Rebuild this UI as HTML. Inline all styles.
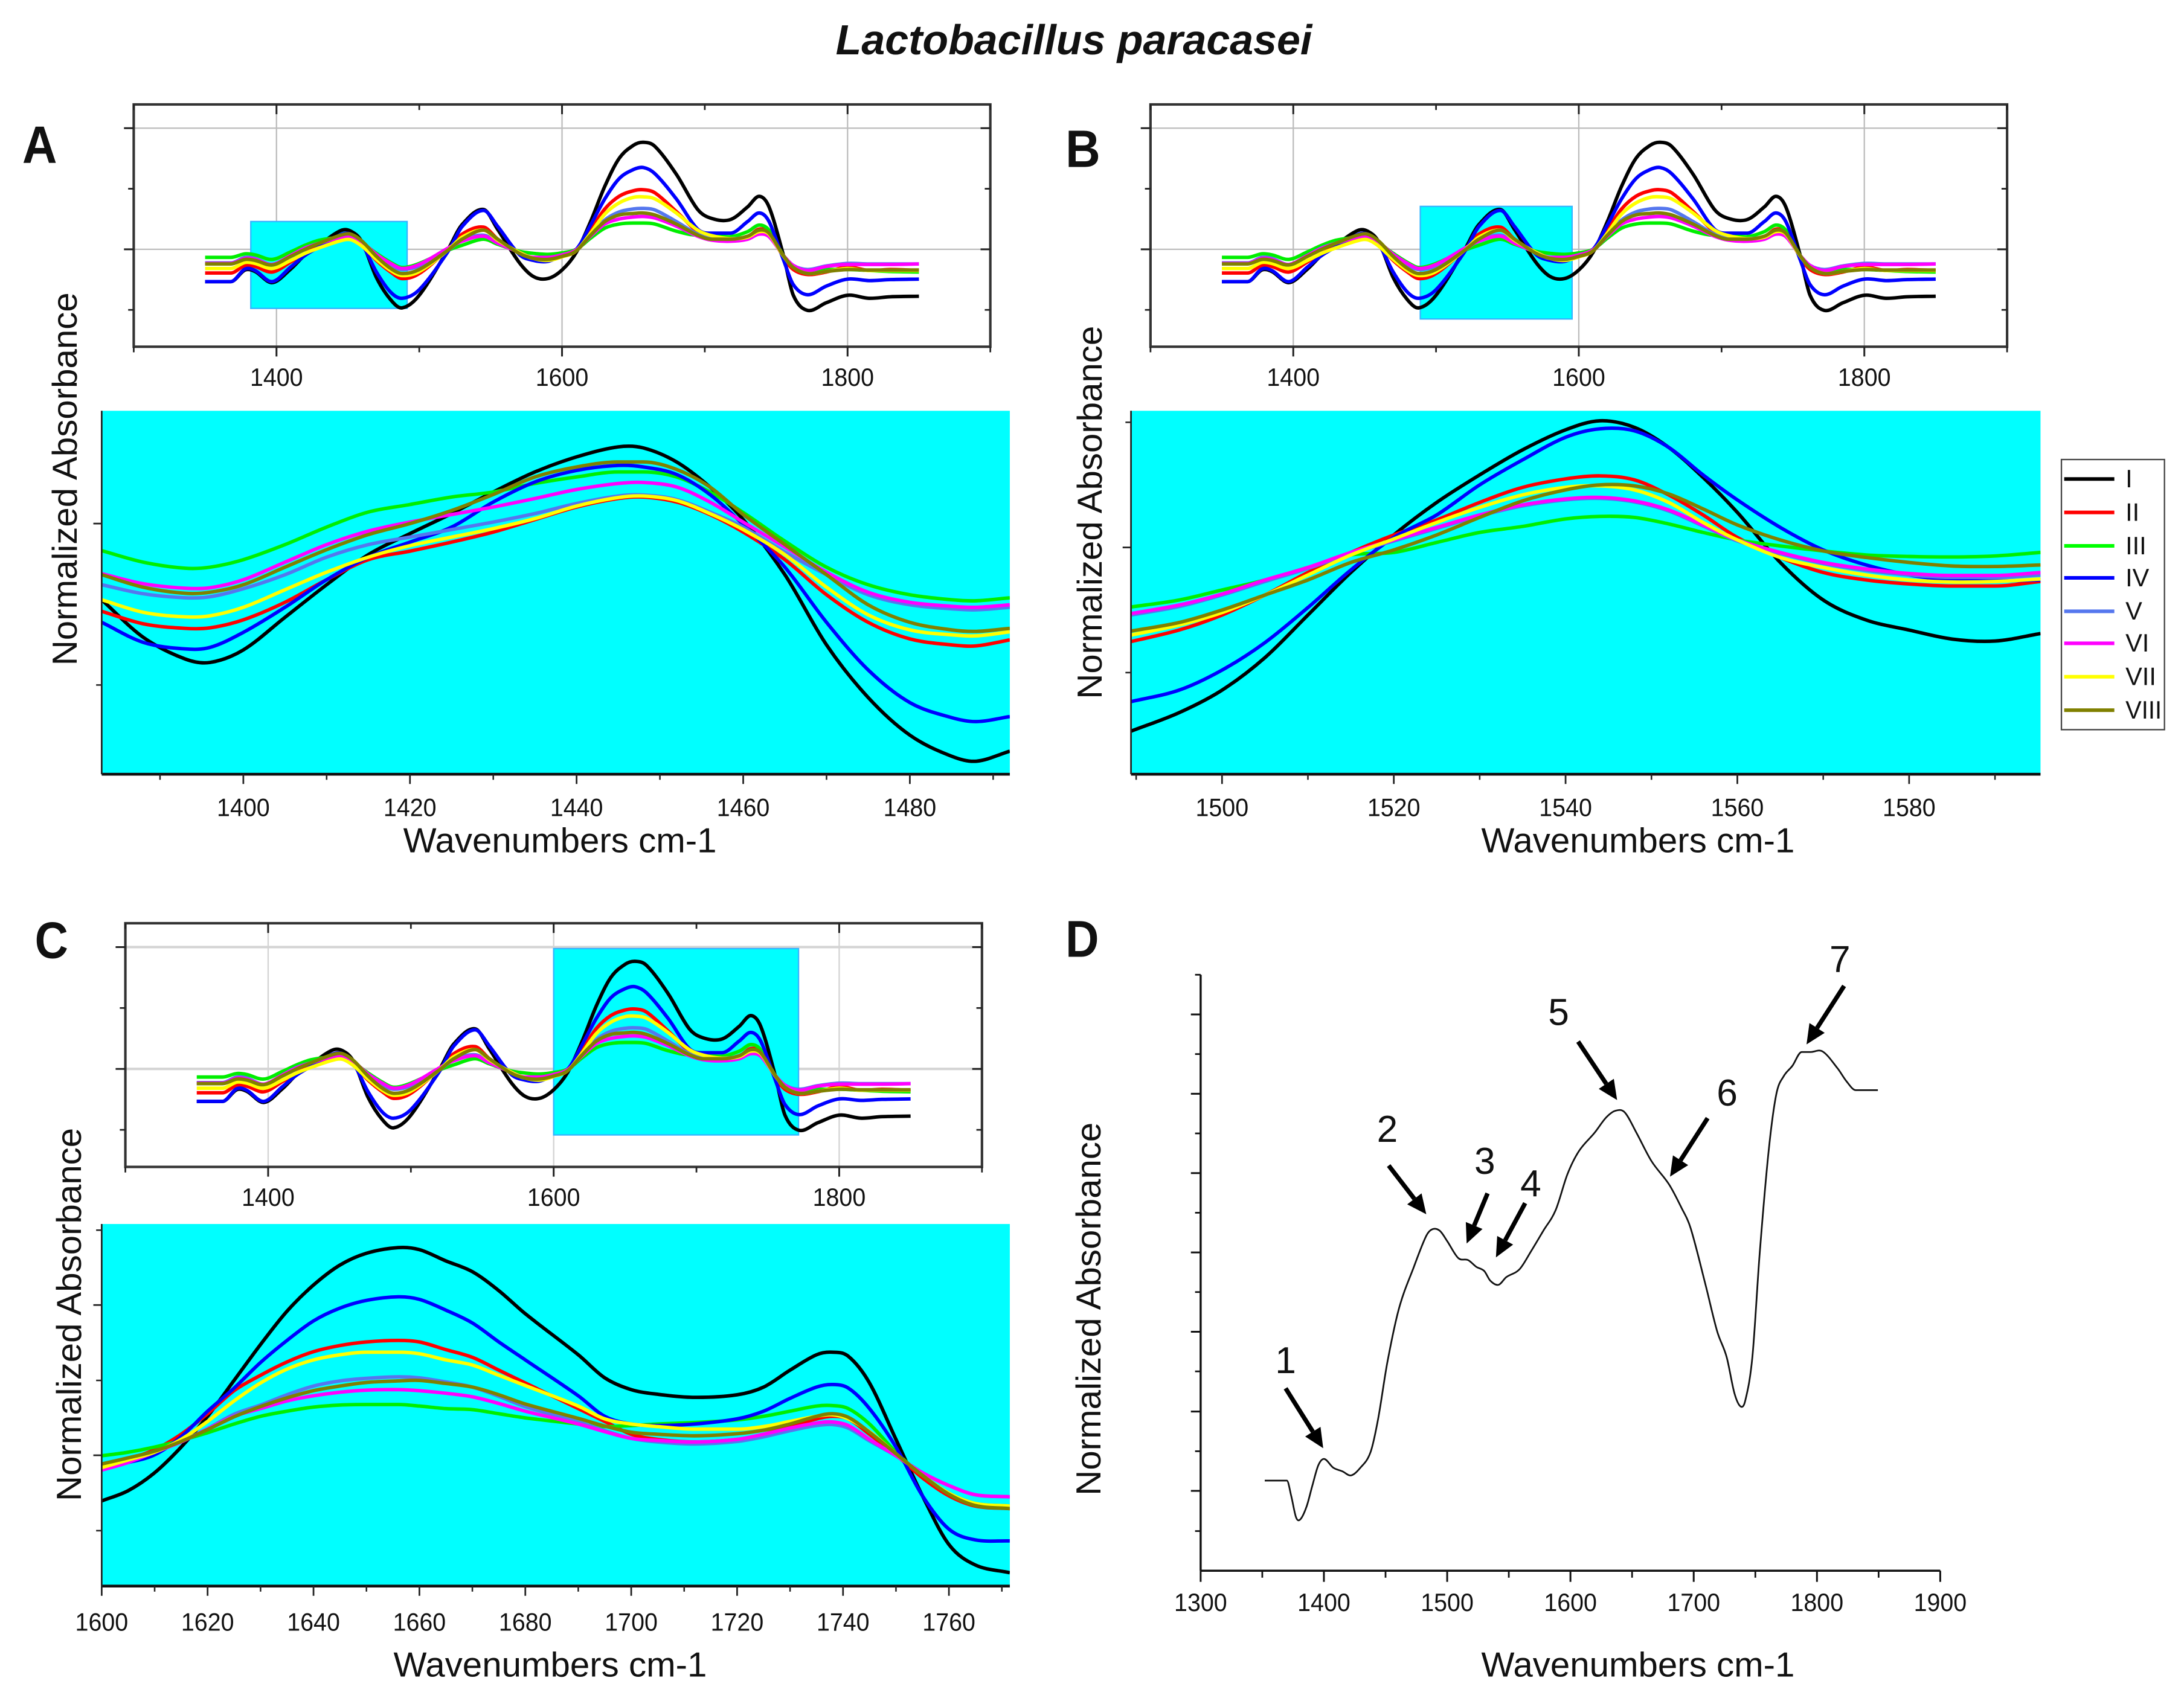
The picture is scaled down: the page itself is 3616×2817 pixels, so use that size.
<!DOCTYPE html>
<html lang="en">
<head>
<meta charset="utf-8">
<title>Lactobacillus paracasei</title>
<style>
html,body{margin:0;padding:0;background:#fff}
svg{display:block}
text{font-family:"Liberation Sans",sans-serif;fill:#111}
</style>
</head>
<body>
<svg id="fig" xmlns="http://www.w3.org/2000/svg" width="3616" height="2817" viewBox="0 0 1568 1221.55">
  <rect x="0" y="0" width="1568" height="1222" fill="#fff"/>
  <text x="771" y="39" font-size="30" font-weight="bold" font-style="italic" text-anchor="middle" textLength="342" lengthAdjust="spacingAndGlyphs">Lactobacillus paracasei</text>
  <text x="16" y="117" font-size="38" font-weight="bold" textLength="25" lengthAdjust="spacingAndGlyphs">A</text>
  <text x="765" y="120" font-size="38" font-weight="bold" textLength="25" lengthAdjust="spacingAndGlyphs">B</text>
  <text x="25" y="688" font-size="37" font-weight="bold" textLength="24" lengthAdjust="spacingAndGlyphs">C</text>
  <text x="765" y="687" font-size="37" font-weight="bold" textLength="24" lengthAdjust="spacingAndGlyphs">D</text>

  <g id="plots"></g>

  <text transform="translate(55,344) rotate(-90)" font-size="25" text-anchor="middle" textLength="268" lengthAdjust="spacingAndGlyphs">Normalized Absorbance</text>
  <text transform="translate(791,368) rotate(-90)" font-size="25" text-anchor="middle" textLength="268" lengthAdjust="spacingAndGlyphs">Normalized Absorbance</text>
  <text transform="translate(58,944) rotate(-90)" font-size="25" text-anchor="middle" textLength="268" lengthAdjust="spacingAndGlyphs">Normalized Absorbance</text>
  <text transform="translate(790,940) rotate(-90)" font-size="25" text-anchor="middle" textLength="268" lengthAdjust="spacingAndGlyphs">Normalized Absorbance</text>
  <text x="402" y="612" font-size="25" text-anchor="middle" textLength="225" lengthAdjust="spacingAndGlyphs">Wavenumbers cm-1</text>
  <text x="1176" y="612" font-size="25" text-anchor="middle" textLength="225" lengthAdjust="spacingAndGlyphs">Wavenumbers cm-1</text>
  <text x="395" y="1204" font-size="25" text-anchor="middle" textLength="225" lengthAdjust="spacingAndGlyphs">Wavenumbers cm-1</text>
  <text x="1176" y="1204" font-size="25" text-anchor="middle" textLength="225" lengthAdjust="spacingAndGlyphs">Wavenumbers cm-1</text>

  <g>
    <rect x="1480" y="330" width="74" height="194" fill="#fff" stroke="#444" stroke-width="1"/>
    <g><line x1="1482" x2="1518" y1="344" y2="344" stroke="#000" stroke-width="2.6"/><text x="1526" y="350" font-size="18">I</text></g>
    <g><line x1="1482" x2="1518" y1="368" y2="368" stroke="#f00" stroke-width="2.6"/><text x="1526" y="374" font-size="18">II</text></g>
    <g><line x1="1482" x2="1518" y1="392" y2="392" stroke="#0f0" stroke-width="2.6"/><text x="1526" y="398" font-size="18">III</text></g>
    <g><line x1="1482" x2="1518" y1="415" y2="415" stroke="#00f" stroke-width="2.6"/><text x="1526" y="421" font-size="18">IV</text></g>
    <g><line x1="1482" x2="1518" y1="439" y2="439" stroke="#5577ee" stroke-width="2.6"/><text x="1526" y="445" font-size="18">V</text></g>
    <g><line x1="1482" x2="1518" y1="462" y2="462" stroke="#f0f" stroke-width="2.6"/><text x="1526" y="468" font-size="18">VI</text></g>
    <g><line x1="1482" x2="1518" y1="486" y2="486" stroke="#ff0" stroke-width="2.6"/><text x="1526" y="492" font-size="18">VII</text></g>
    <g><line x1="1482" x2="1518" y1="510" y2="510" stroke="#808000" stroke-width="2.6"/><text x="1526" y="516" font-size="18" textLength="26" lengthAdjust="spacingAndGlyphs">VIII</text></g>
  </g>

  <g font-size="27">
    <text x="923" y="986" font-size="27" text-anchor="middle">1</text>
    <text x="996" y="820" font-size="27" text-anchor="middle">2</text>
    <text x="1066" y="843" font-size="27" text-anchor="middle">3</text>
    <text x="1099" y="859" font-size="27" text-anchor="middle">4</text>
    <text x="1119" y="736" font-size="27" text-anchor="middle">5</text>
    <text x="1240" y="794" font-size="27" text-anchor="middle">6</text>
    <text x="1321" y="698" font-size="27" text-anchor="middle">7</text>
  </g>
  <g id="arrows"></g>
</svg>

<script>
// ---------- series labels and colours ----------
const seriesNames = ['I','II','III','IV','V','VI','VII','VIII'];
const seriesColors = ['#000000','#ff0000','#00ee00','#0000ff','#5577ee','#ff00ff','#ffff00','#808000'];

// ---------- full spectrum shown in the insets ----------
const wnFull = [1350,1368,1378,1385,1397,1410,1420,1430,1445,1452,1460,1470,1480,1488,1500,1520,1530,1545,1555,1570,1580,1590,1600,1610,1620,1630,1640,1650,1657,1665,1680,1695,1705,1718,1730,1738,1745,1755,1762,1772,1785,1800,1815,1830,1850];
const fullI = [-64,-64,-41,-44,-66,-39,-11,9,37,36,14,-56,-100,-116,-91,-1,49,79,39,-26,-54,-58,-41,-6,55,125,180,206,212,204,149,79,61,59,84,105,84,-11,-91,-121,-106,-91,-97,-94,-93];
const fullII = [-47,-47,-32,-34,-45,-25,-8,5,20,22,8,-22,-45,-58,-48,0,30,44,20,-8,-20,-22,-14,-3,38,80,105,116,118,112,75,35,25,20,25,40,33,-15,-40,-50,-45,-35,-42,-40,-42];
const fullIII = [-16,-16,-9,-11,-20,-5,8,18,24,23,12,-8,-26,-36,-28,-2,8,20,10,-4,-8,-10,-7,0,22,42,50,52,52,50,36,28,28,25,35,48,38,-12,-34,-44,-40,-40,-42,-44,-45];
const fullIV = [-64,-64,-39,-42,-64,-35,-12,5,29,30,10,-45,-85,-97,-80,-5,45,77,45,-10,-22,-24,-12,0,48,100,140,158,162,150,100,40,32,32,55,72,55,-20,-70,-90,-73,-59,-62,-60,-59];
const fullV = [-27,-27,-16,-18,-30,-12,3,12,24,25,12,-12,-32,-40,-33,-2,18,28,14,-6,-18,-18,-12,-2,28,58,74,80,81,78,55,30,22,21,24,31,26,-12,-32,-40,-33,-28,-29,-29,-29];
const fullVI = [-28,-28,-18,-20,-30,-12,2,12,24,26,14,-10,-28,-38,-30,2,16,26,12,-6,-16,-16,-11,-1,26,50,60,64,65,62,46,26,18,16,20,30,25,-12,-32,-42,-34,-30,-30,-30,-29];
const fullVII = [-38,-38,-26,-28,-38,-22,-8,3,17,19,6,-20,-42,-52,-44,-2,24,38,18,-6,-18,-22,-15,-3,32,70,92,103,104,100,72,38,27,21,24,35,30,-13,-36,-48,-44,-38,-42,-42,-42];
const fullVIII = [-29,-29,-20,-22,-31,-14,0,12,28,30,16,-14,-38,-48,-40,-2,20,38,20,-8,-18,-20,-14,-3,28,55,68,71,72,68,50,28,20,20,26,38,32,-12,-36,-48,-44,-40,-41,-41,-41];
const fullSeries = [fullI,fullII,fullIII,fullIV,fullV,fullVI,fullVII,fullVIII];

// ---------- panel A detail ----------
const wnA = [1383,1388,1393,1396,1400,1405,1410,1415,1420,1425,1430,1435,1440,1445,1448,1452,1456,1460,1465,1470,1475,1480,1485,1488,1492];
const aI = [-152,-227,-270,-277,-252,-187,-122,-62,-20,20,63,103,133,153,151,123,73,8,-102,-242,-347,-422,-464,-474,-454];
const aII = [-175,-200,-209,-208,-192,-157,-112,-72,-55,-37,-17,8,33,50,53,43,18,-17,-72,-142,-197,-230,-242,-244,-232];
const aIII = [-54,-77,-89,-87,-72,-42,-7,23,38,53,63,80,93,103,103,93,63,22,-35,-87,-122,-142,-152,-154,-148];
const aIV = [-197,-237,-250,-247,-217,-167,-112,-67,-37,-7,43,83,106,116,113,98,58,-2,-87,-197,-292,-357,-387,-395,-385];
const aV = [-122,-140,-148,-146,-130,-102,-67,-42,-27,-12,3,20,40,55,57,48,23,-7,-57,-102,-142,-162,-170,-172,-167];
const aVI = [-100,-120,-129,-128,-112,-77,-42,-15,3,18,33,50,68,80,82,73,43,3,-47,-97,-137,-157,-165,-167,-162];
const aVII = [-152,-177,-186,-184,-167,-132,-97,-67,-44,-27,-10,10,35,52,55,46,20,-12,-62,-127,-182,-212,-222,-224,-216];
const aVIII = [-102,-127,-139,-137,-122,-87,-52,-22,0,26,58,93,113,123,123,108,73,18,-42,-102,-162,-197,-212,-215,-209];
const aSeries = [aI,aII,aIII,aIV,aV,aVI,aVII,aVIII];

// ---------- panel B detail ----------
const wnB = [1489.4,1495,1500,1505,1510,1515,1520,1525,1530,1535,1540,1544,1548,1552,1556,1560,1565,1570,1575,1580,1585,1590,1595.3];
const bI = [-367,-330,-285,-220,-135,-50,25,90,145,195,235,253,240,200,140,70,-30,-105,-145,-165,-183,-187,-172];
const bII = [-188,-165,-135,-95,-50,-10,25,55,90,120,137,143,135,105,65,20,-20,-50,-65,-73,-77,-77,-68];
const bIII = [-119,-105,-85,-65,-40,-15,-10,10,30,42,57,62,60,47,30,15,3,-7,-15,-18,-19,-17,-10];
const bIV = [-308,-285,-245,-190,-120,-45,20,65,125,175,220,237,233,200,145,95,40,-5,-35,-55,-65,-67,-65];
const bV = [-135,-118,-95,-68,-42,-12,13,38,63,83,95,98,91,73,43,13,-12,-32,-46,-55,-60,-60,-55];
const bVI = [-132,-115,-93,-65,-40,-10,15,40,65,85,97,100,93,75,45,15,-10,-30,-43,-52,-56,-56,-50];
const bVII = [-175,-155,-130,-95,-55,-15,17,50,80,105,120,123,115,90,50,15,-20,-40,-55,-65,-69,-68,-63];
const bVIII = [-167,-150,-125,-95,-65,-30,-5,25,60,93,115,125,123,107,77,45,15,-7,-20,-30,-37,-38,-35];
const bSeries = [bI,bII,bIII,bIV,bV,bVI,bVII,bVIII];

// ---------- panel C detail ----------
const wnC = [1600,1605,1610,1615,1620,1625,1630,1635,1640,1645,1650,1656,1660,1665,1670,1675,1680,1690,1695,1700,1705,1712,1720,1725,1730,1735,1738,1741,1745,1750,1755,1760,1765,1771.5];
const cI = [-89,-69,-34,16,76,146,216,281,332,371,394,405,401,379,358,321,276,196,151,128,119,113,118,133,166,196,201,193,141,31,-79,-174,-214,-229];
const cII = [-19,-7,11,41,81,126,156,182,202,214,221,224,221,206,191,166,141,91,66,41,31,26,31,41,56,71,76,71,41,1,-44,-79,-99,-104];
const cIII = [-1,6,16,29,44,61,76,86,94,98,99,99,96,91,89,81,73,61,56,58,61,64,69,76,86,96,97,91,61,6,-39,-74,-94,-99];
const cIV = [-24,-14,1,36,86,131,181,224,262,287,302,309,304,283,258,221,186,116,76,61,58,61,71,86,111,133,138,131,91,16,-79,-144,-165,-167];
const cV = [-27,-12,6,27,52,80,98,118,135,145,150,153,151,143,133,115,95,65,48,33,26,22,27,36,48,58,60,53,28,-1,-34,-59,-77,-81];
const cVI = [-29,-14,6,26,51,76,91,106,116,123,127,128,126,121,114,101,86,61,46,33,29,26,31,41,53,63,65,58,31,-1,-34,-59,-77,-81];
const cVII = [-24,-9,6,31,66,106,141,168,186,196,201,201,198,186,176,156,136,96,71,61,56,51,51,56,66,76,79,71,46,3,-39,-74,-94,-99];
const cVIII = [-17,-5,8,27,50,75,95,112,126,135,142,145,146,140,133,118,100,72,57,45,41,38,42,49,61,76,81,74,45,3,-39,-76,-98,-104];
const cSeries = [cI,cII,cIII,cIV,cV,cVI,cVII,cVIII];

// ---------- panel D trace ----------
const wnD = [1352,1370,1373.5,1377.5,1381,1386,1390.6,1395.5,1400.3,1407.6,1415,1422,1429.6,1437.8,1444,1451.5,1461,1473,1483,1488,1494,1500,1509,1517,1523.6,1530,1535,1541.6,1548,1558.6,1568,1578,1588,1597.6,1607,1619.5,1629,1636.6,1644,1653.6,1665.8,1680,1690,1697.5,1709.6,1719,1726.7,1733,1738,1741.8,1747.6,1753.5,1760.8,1767,1773,1780,1787.6,1795,1804.6,1816.8,1824,1831.4,1849.4];
const absD = [175,175,145,103,100,125,165,205,217,200,193,185,200,230,295,405,510,590,650,663,660,640,607,603,590,582,563,555,570,585,620,660,700,770,815,850,880,893,890,850,795,750,705,665,555,465,415,345,319,330,415,615,815,925,960,980,1007,1007,1008,975,950,933,933];

// ---------- tick values ----------
const insetMajorTicks = [1400,1600,1800];
const insetMinorTicks = [1300,1500,1700,1900];
const insetYMajor = [240,0];
const insetYMinor = [120,-120];
const aXMajor = [1400,1420,1440,1460,1480];
const aXMinor = [1390,1410,1430,1450,1470,1490];
const aYMajor = [0];
const aYMinor = [-322];
const bXMajor = [1500,1520,1540,1560,1580];
const bXMinor = [1490,1510,1530,1550,1570,1590];
const bYMajor = [0];
const bYMinor = [250,-250];
const cXMajor = [1600,1620,1640,1660,1680,1700,1720,1740,1760];
const cXMinor = [1610,1630,1650,1670,1690,1710,1730,1750,1770];
const cYMajor = [0,293];
const cYMinor = [439,146,-147];
const dXMajor = [1300,1400,1500,1600,1700,1800,1900];
const dXMinor = [1350,1450,1550,1650,1750,1850];
const dYMajor = [155,309,464,618,772,926,1080];
const dYMinor = [77,232,387,541,695,849,1003,1157];

// ---------- zoom windows (wavenumber and value limits highlighted in each inset) ----------
const zoomA = [1382,1491.5,-117,55];
const zoomB = [1489,1595.3,-138,85];
const zoomC = [1600,1771.5,-130,237];

// ---------- helpers ----------
const NS = 'http://www.w3.org/2000/svg';
const plots = document.getElementById('plots');
function linear(d0,d1,r0,r1){return v=>r0+(v-d0)*(r1-r0)/(d1-d0);}
function make(parent,tag,attrs,name){
  const el=document.createElementNS(NS,tag);
  for(const k in attrs){el.setAttribute(k,attrs[k]);}
  
  
  parent.appendChild(el);
  return el;
}
function smoothPath(xs,ys,sx,sy){
  const n=xs.length;
  const m=xs.map((x,i)=>{
    const a=Math.max(0,i-1),b=Math.min(n-1,i+1);
    if((i>0&&ys[i]===ys[i-1])||(i<n-1&&ys[i]===ys[i+1])){return 0;}
    return (ys[b]-ys[a])/(xs[b]-xs[a]);
  });
  let d='M'+sx(xs[0]).toFixed(2)+' '+sy(ys[0]).toFixed(2);
  for(let i=0;i<n-1;i++){
    const h=(xs[i+1]-xs[i])/3;
    d+=' C'+sx(xs[i]+h).toFixed(2)+' '+sy(ys[i]+m[i]*h).toFixed(2)+
       ' '+sx(xs[i+1]-h).toFixed(2)+' '+sy(ys[i+1]-m[i+1]*h).toFixed(2)+
       ' '+sx(xs[i+1]).toFixed(2)+' '+sy(ys[i+1]).toFixed(2);
  }
  return d;
}
function tickLabel(g,x,y,txt,name){
  const t=make(g,'text',{x:x,y:y,'font-size':18,'text-anchor':'middle',textLength:38,lengthAdjust:'spacingAndGlyphs'},name);
  t.textContent=txt;
  return t;
}
function drawCurves(g,xs,list,sx,sy,width,prefix,clip){
  list.forEach((vals,i)=>{
    const attrs={d:smoothPath(xs,vals,sx,sy),fill:'none',stroke:seriesColors[i],'stroke-width':width,'stroke-linejoin':'round'};
    if(clip){attrs['clip-path']='url(#'+clip+')';}
    make(g,'path',attrs,prefix+'-series-'+seriesNames[i].toLowerCase());
  });
}

// ---------- inset ----------
function drawInset(id,box,zoom,gridW,gridC){
  const g=make(plots,'g',{},'inset-'+id);
  const sx=linear(1300,1900,box.x0,box.x1);
  const sy=linear(-193,287,box.y1,box.y0);
  make(g,'rect',{x:box.x0,y:box.y0,width:box.x1-box.x0,height:box.y1-box.y0,fill:'#fff'},'inset-plot-area-'+id);
  insetMajorTicks.forEach(t=>{
    make(g,'line',{x1:sx(t),x2:sx(t),y1:box.y0,y2:box.y1,stroke:gridC,'stroke-width':1},'inset-vgrid-'+id);
  });
  insetYMajor.forEach(t=>{
    make(g,'line',{x1:box.x0,x2:box.x1,y1:sy(t),y2:sy(t),stroke:gridC,'stroke-width':gridW},'inset-hgrid-'+id);
  });
  make(g,'rect',{x:sx(zoom[0]),y:sy(zoom[3]),width:sx(zoom[1])-sx(zoom[0]),height:sy(zoom[2])-sy(zoom[3]),fill:'#00ffff',stroke:'#33b5ff','stroke-width':1},'zoom-window-'+id);
  drawCurves(g,wnFull,fullSeries,sx,sy,2.5,'inset-'+id);
  make(g,'rect',{x:box.x0,y:box.y0,width:box.x1-box.x0,height:box.y1-box.y0,fill:'none',stroke:'#333','stroke-width':1.8},'inset-frame-'+id);
  insetMajorTicks.forEach(t=>{
    make(g,'line',{x1:sx(t),x2:sx(t),y1:box.y1,y2:box.y1+7,stroke:'#222','stroke-width':1.3},'inset-xtick-'+id);
    make(g,'line',{x1:sx(t),x2:sx(t),y1:box.y0,y2:box.y0+7,stroke:'#222','stroke-width':1.3},'inset-xtick-top-'+id);
    tickLabel(g,sx(t),box.y1+28,t,'inset-xtick-label-'+id);
  });
  insetMinorTicks.forEach(t=>{
    make(g,'line',{x1:sx(t),x2:sx(t),y1:box.y1,y2:box.y1+4,stroke:'#222','stroke-width':1.2},'inset-xminor-'+id);
    make(g,'line',{x1:sx(t),x2:sx(t),y1:box.y0,y2:box.y0+4,stroke:'#222','stroke-width':1.2},'inset-xminor-top-'+id);
  });
  insetYMajor.forEach(t=>{
    make(g,'line',{x1:box.x0-7,x2:box.x0,y1:sy(t),y2:sy(t),stroke:'#222','stroke-width':1.3},'inset-ytick-'+id);
    make(g,'line',{x1:box.x1-7,x2:box.x1,y1:sy(t),y2:sy(t),stroke:'#222','stroke-width':1.3},'inset-ytick-right-'+id);
  });
  insetYMinor.forEach(t=>{
    make(g,'line',{x1:box.x0-4,x2:box.x0,y1:sy(t),y2:sy(t),stroke:'#222','stroke-width':1.2},'inset-yminor-'+id);
    make(g,'line',{x1:box.x1-4,x2:box.x1,y1:sy(t),y2:sy(t),stroke:'#222','stroke-width':1.2},'inset-yminor-right-'+id);
  });
}

// ---------- detail panel ----------
function drawMain(id,box,xd,yd,xs,list,xMajor,xMinor,yMajor,yMinor,labelY){
  const g=make(plots,'g',{},'detail-plot-'+id);
  const sx=linear(xd[0],xd[1],box.x0,box.x1);
  const sy=linear(yd[0],yd[1],box.y1,box.y0);
  const clipId='clip-'+id;
  const defs=make(g,'defs',{},'clip-defs-'+id);
  const cp=make(defs,'clipPath',{id:clipId},'clip-path-'+id);
  make(cp,'rect',{x:box.x0,y:box.y0,width:box.x1-box.x0,height:box.y1-box.y0},'clip-rect-'+id);
  make(g,'rect',{x:box.x0,y:box.y0,width:box.x1-box.x0,height:box.y1-box.y0,fill:'#00ffff'},'detail-plot-area-'+id);
  drawCurves(g,xs,list,sx,sy,2.5,'detail-'+id,clipId);
  make(g,'line',{x1:box.x0,x2:box.x1,y1:box.y1,y2:box.y1,stroke:'#111','stroke-width':2},'detail-x-axis-'+id);
  make(g,'line',{x1:box.x0,x2:box.x0,y1:box.y0,y2:box.y1,stroke:'#222','stroke-width':1.2},'detail-y-axis-'+id);
  xMajor.forEach(t=>{
    make(g,'line',{x1:sx(t),x2:sx(t),y1:box.y1,y2:box.y1+7,stroke:'#222','stroke-width':1.2},'detail-xtick-'+id);
    tickLabel(g,sx(t),labelY,t,'detail-xtick-label-'+id);
  });
  xMinor.forEach(t=>{
    make(g,'line',{x1:sx(t),x2:sx(t),y1:box.y1,y2:box.y1+4,stroke:'#222','stroke-width':1.1},'detail-xminor-'+id);
  });
  yMajor.forEach(t=>{
    make(g,'line',{x1:box.x0-6,x2:box.x0,y1:sy(t),y2:sy(t),stroke:'#222','stroke-width':1.2},'detail-ytick-'+id);
  });
  yMinor.forEach(t=>{
    make(g,'line',{x1:box.x0-4,x2:box.x0,y1:sy(t),y2:sy(t),stroke:'#222','stroke-width':1.1},'detail-yminor-'+id);
  });
}

// ---------- panel D ----------
function drawD(){
  const g=make(plots,'g',{},'panel-d-plot');
  const box={x0:862,x1:1393,y0:700,y1:1128};
  const sx=linear(1300,1900,box.x0,box.x1);
  const sy=linear(0,1157,box.y1,box.y0);
  make(g,'line',{x1:box.x0,x2:box.x1,y1:box.y1,y2:box.y1,stroke:'#111','stroke-width':1.5},'panel-d-x-axis');
  make(g,'line',{x1:box.x0,x2:box.x0,y1:box.y0,y2:box.y1,stroke:'#111','stroke-width':1.5},'panel-d-y-axis');
  dXMajor.forEach(t=>{
    make(g,'line',{x1:sx(t),x2:sx(t),y1:box.y1,y2:box.y1+8,stroke:'#111','stroke-width':1.3},'panel-d-xtick');
    tickLabel(g,sx(t),box.y1+29,t,'panel-d-xtick-label');
  });
  dXMinor.forEach(t=>{
    make(g,'line',{x1:sx(t),x2:sx(t),y1:box.y1,y2:box.y1+5,stroke:'#111','stroke-width':1.2},'panel-d-xminor');
  });
  dYMajor.forEach(t=>{
    make(g,'line',{x1:box.x0-7,x2:box.x0,y1:sy(t),y2:sy(t),stroke:'#111','stroke-width':1.3},'panel-d-ytick');
  });
  dYMinor.forEach(t=>{
    make(g,'line',{x1:box.x0-4,x2:box.x0,y1:sy(t),y2:sy(t),stroke:'#111','stroke-width':1.2},'panel-d-yminor');
  });
  make(g,'path',{d:smoothPath(wnD,absD,sx,sy),fill:'none',stroke:'#111','stroke-width':1.2},'panel-d-trace');
}

drawInset('a',{x0:96,x1:711,y0:75,y1:249},zoomA,1,'#bdbdbd');
drawMain('a',{x0:73,x1:725,y0:295,y1:556},[1383,1492],[-500,225],wnA,aSeries,aXMajor,aXMinor,aYMajor,aYMinor,586);
drawInset('b',{x0:826,x1:1441,y0:75,y1:249},zoomB,1,'#bdbdbd');
drawMain('b',{x0:812,x1:1465,y0:295,y1:556},[1489.4,1595.3],[-453,273],wnB,bSeries,bXMajor,bXMinor,bYMajor,bYMinor,586);
drawInset('c',{x0:90,x1:705,y0:663,y1:838},zoomC,1.8,'#d4d4d4');
drawMain('c',{x0:73,x1:725,y0:879,y1:1139},[1600,1771.5],[-255,451],wnC,cSeries,cXMajor,cXMinor,cYMajor,cYMinor,1171);
drawD();

// ---------- annotation arrows (shaft plus head along each segment) ----------
const arrowNames = ['1','2','3','4','5','6','7'];
const arrowLayer = document.getElementById('arrows');
[[923,997,950,1040],[997,837,1024,872],[1068,857,1053,893],[1095,864,1074,903],[1133,748,1161,790],[1226,803,1199,845],[1324,708,1297,750]].forEach((a,i)=>{
  const ang=Math.atan2(a[3]-a[1],a[2]-a[0]);
  const L=14,W=6.5;
  const bx=a[2]-L*Math.cos(ang),by=a[3]-L*Math.sin(ang);
  const g=make(arrowLayer,'g',{},'peak-arrow-'+arrowNames[i]);
  make(g,'line',{x1:a[0],y1:a[1],x2:bx,y2:by,stroke:'#000','stroke-width':3.2},'peak-arrow-shaft');
  const p=[a[2]+','+a[3],(bx-W*Math.sin(ang))+','+(by+W*Math.cos(ang)),(bx+W*Math.sin(ang))+','+(by-W*Math.cos(ang))].join(' ');
  make(g,'polygon',{points:p,fill:'#000'},'peak-arrow-head');
});
</script>
</body>
</html>
